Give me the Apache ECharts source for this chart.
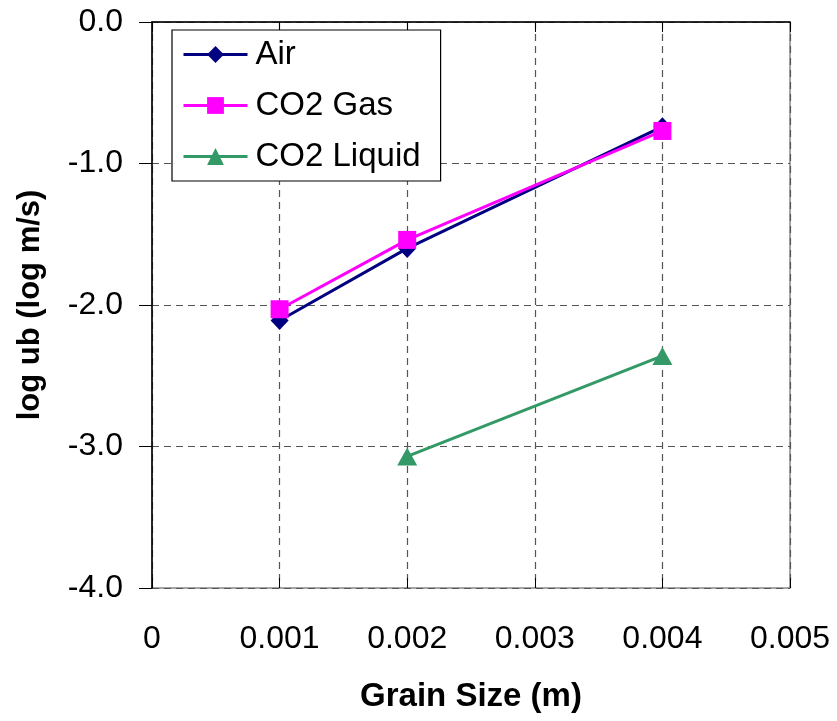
<!DOCTYPE html>
<html><head><meta charset="utf-8">
<script src="https://cdn.jsdelivr.net/npm/echarts@6/dist/echarts.min.js"></script>
<style>html,body{margin:0;padding:0;background:#fff}#c{width:837px;height:721px}</style>
</head><body><div id="c"></div>
<script>
const seriesNames = ['Air', 'CO2 Gas', 'CO2 Liquid'];
const airData = [[0.001, -2.11], [0.002, -1.60], [0.004, -0.74]];
const co2GasData = [[0.001, -2.03], [0.002, -1.54], [0.004, -0.77]];
const co2LiquidData = [[0.002, -3.07], [0.004, -2.36]];
const xTicks = [0, 0.001, 0.002, 0.003, 0.004, 0.005];
const yTicks = [-4, -3, -2, -1, 0];

const font = 'Liberation Sans, Arial, sans-serif';
const chart = echarts.init(document.getElementById('c'));
const gridLine = {show: true, lineStyle: {color: '#555', type: [7, 5], width: 1.2}};
chart.setOption({
  animation: false,
  backgroundColor: '#fff',
  grid: {left: 152, right: 47, top: 22, bottom: 133, show: true, borderColor: '#888', borderWidth: 1.5, backgroundColor: 'transparent'},
  legend: {
    left: 172, top: 30, orient: 'vertical',
    padding: [8, 20, 8, 10],
    borderColor: '#000', borderWidth: 1.2, backgroundColor: '#fff',
    itemWidth: 64, itemHeight: 21, itemGap: 18,
    lineStyle: {width: 3},
    textStyle: {fontFamily: font, fontSize: 33, color: '#000', padding: [0, 0, 0, 3]},
    data: seriesNames
  },
  xAxis: [{
    type: 'value', min: 0, max: 0.005, interval: 0.001,
    axisLine: {lineStyle: {color: '#000', width: 1.5}},
    axisTick: {show: true, length: 10, lineStyle: {color: '#000', width: 1}},
    axisLabel: {fontFamily: font, fontSize: 32, color: '#000', margin: 35,
      formatter: v => { const t = xTicks.find(x => Math.abs(x - v) < 1e-9); return t === 0 ? '0' : t.toFixed(3); }},
    splitLine: gridLine,
    name: 'Grain Size (m)', nameLocation: 'middle', nameGap: 92,
    nameTextStyle: {fontFamily: font, fontSize: 33, fontWeight: 'bold', color: '#000'}
  }, {
    type: 'value', min: 0, max: 0.005, interval: 0.001, position: 'bottom',
    axisLine: {show: false},
    axisTick: {show: true, inside: true, length: 10, lineStyle: {color: '#000', width: 1}},
    axisLabel: {show: false}, splitLine: {show: false}
  }],
  yAxis: {
    type: 'value', min: -4, max: 0, interval: 1,
    axisLine: {show: true, lineStyle: {color: '#000', width: 1.5}},
    axisTick: {show: true, length: 13, lineStyle: {color: '#000', width: 1}},
    axisLabel: {fontFamily: font, fontSize: 32, color: '#000', margin: 29,
      formatter: v => { const t = yTicks.find(y => Math.abs(y - v) < 1e-9); return t.toFixed(1); }},
    splitLine: gridLine,
    name: 'log ub (log m/s)', nameLocation: 'middle', nameGap: 106, nameRotate: 90,
    nameTextStyle: {fontFamily: font, fontSize: 31, fontWeight: 'bold', color: '#000'}
  },
  series: [
    {name: seriesNames[0], type: 'line', data: airData, symbol: 'diamond', symbolSize: [18, 19],
      lineStyle: {color: '#000080', width: 3}, itemStyle: {color: '#000080'}},
    {name: seriesNames[1], type: 'line', data: co2GasData, symbol: 'rect', symbolSize: 18,
      lineStyle: {color: '#FF00FF', width: 3}, itemStyle: {color: '#FF00FF'}},
    {name: seriesNames[2], type: 'line', data: co2LiquidData, symbol: 'triangle', symbolSize: [20, 18],
      lineStyle: {color: '#339966', width: 3}, itemStyle: {color: '#339966'}}
  ]
});
</script></body></html>
